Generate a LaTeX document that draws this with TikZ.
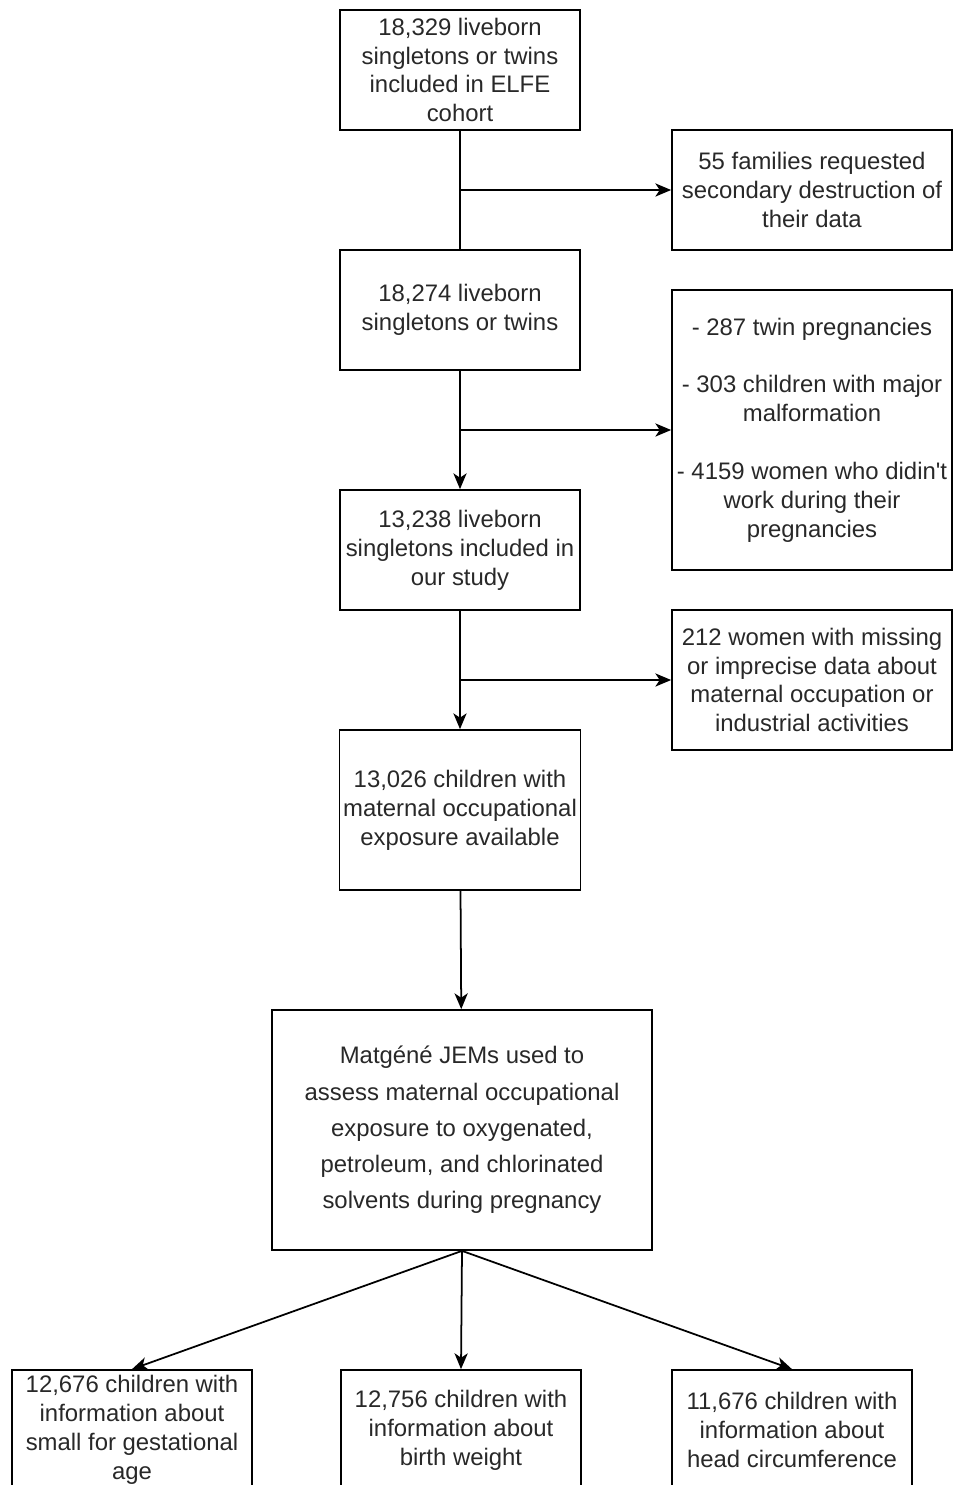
\documentclass[tikz,border=0pt]{standalone}
\usepackage{fontspec}
\setmainfont{Liberation Sans}[Ligatures=TeXOff]
\usepackage{xcolor}
\usetikzlibrary{positioning, arrows.meta}
\definecolor{textgray}{RGB}{40, 40, 40}

\begin{document}
\begin{tikzpicture}[
    x=0.02cm, y=-0.02cm,
    box/.style={rectangle, draw=black, line width=1pt, minimum width=4.8cm, minimum height=2.4cm, align=center, text=textgray, inner sep=2pt, font=\fontsize{13.6}{16.4}\selectfont},
    exbox/.style={box, minimum width=5.6cm},
    arrow/.style={-{Stealth[length=9pt, width=7.5pt, inset=2.5pt]}, line width=1pt},
    line/.style={line width=1pt}
]
    \clip (0,0) rectangle (954,1485);

    \node[box] (cohort) at (460,70) {18,329 liveborn\\singletons or twins\\included in ELFE\\cohort};
    \node[exbox] (destroy) at (812,190) {55 families requested\\secondary destruction of\\their data};
    \node[box] (liveborn) at (460,310) {18,274 liveborn\\singletons or twins};
    \node[exbox, minimum height=5.6cm] (excl) at (812,430) {- 287 twin pregnancies\\[16.4pt]- 303 children with major\\malformation\\[16.4pt]- 4159 women who didin't\\work during their\\pregnancies};
    \node[box] (study) at (460,550) {13,238 liveborn\\singletons included in\\our study};
    \node[exbox, minimum height=2.8cm] (missing) at (812,680) {212 women with missing\\or imprecise data about\\maternal occupation or\\industrial activities};
    \node[box, minimum height=3.2cm] (exposure) at (460,810) {13,026 children with\\maternal occupational\\exposure available};
    \node[box, minimum width=7.6cm, minimum height=4.8cm, font=\fontsize{13.6}{20.6}\selectfont] (jem) at (462,1130) {Matgéné JEMs used to\\assess maternal occupational\\exposure to oxygenated,\\petroleum, and chlorinated\\solvents during pregnancy};
    \node[box] (sga) at (132,1430) {12,676 children with\\information about\\small for gestational\\age};
    \node[box] (weight) at (461,1430) {12,756 children with\\information about\\birth weight};
    \node[box] (head) at (792,1430) {11,676 children with\\information about\\head circumference};

    \draw[line] (cohort) -- (liveborn);
    \draw[arrow] (cohort |- destroy) -- (destroy);
    \draw[arrow] (liveborn) -- (study);
    \draw[arrow] (liveborn |- excl) -- (excl);
    \draw[arrow] (study) -- (exposure);
    \draw[arrow] (study |- missing) -- (missing);
    \draw[arrow] (exposure) -- (jem);
    \draw[arrow] (jem.south) -- (sga.north);
    \draw[arrow] (jem.south) -- (weight.north);
    \draw[arrow] (jem.south) -- (head.north);
\end{tikzpicture}
\end{document}
